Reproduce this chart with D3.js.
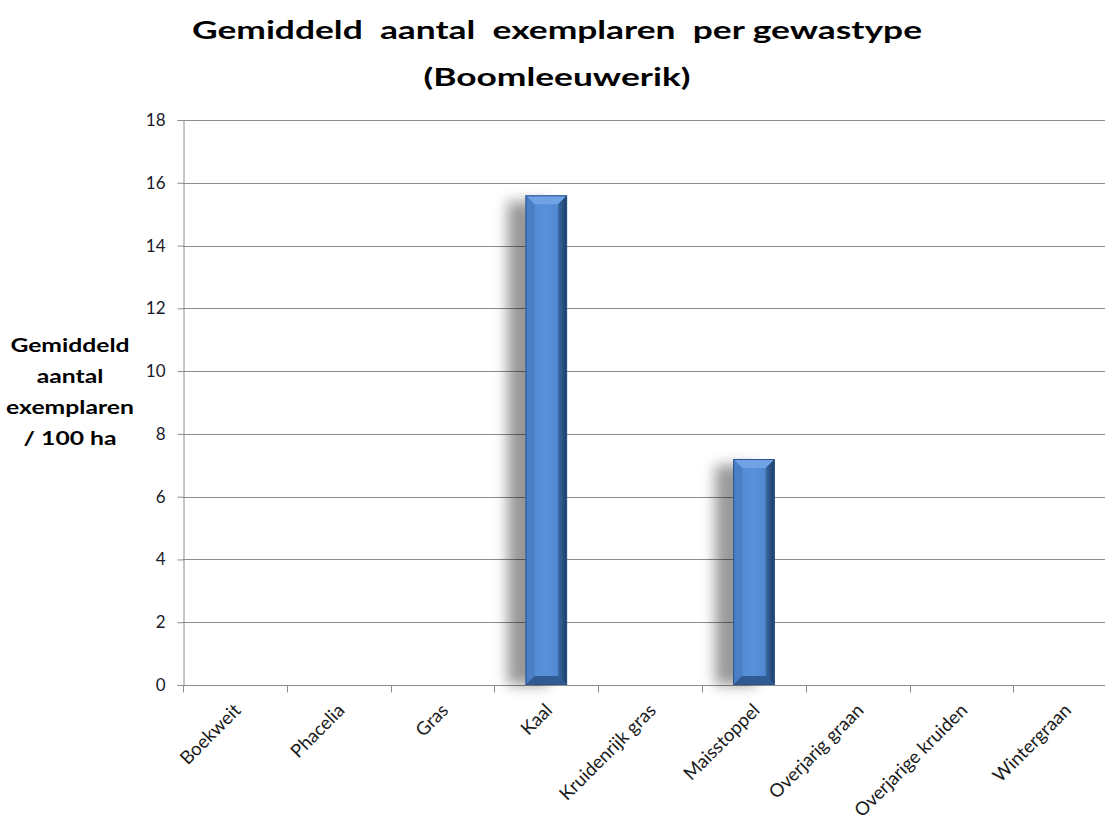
<!DOCTYPE html>
<html>
<head>
<meta charset="utf-8">
<script src="https://cdn.jsdelivr.net/npm/d3@7"></script>
<style>
  html, body { margin: 0; padding: 0; background: #fff; }
  svg { display: block; }
</style>
</head>
<body>
<svg id="chart" width="1108" height="821"></svg>
<script>
// Average number of birds per crop type
const categories = ["Boekweit", "Phacelia", "Gras", "Kaal", "Kruidenrijk gras",
                    "Maisstoppel", "Overjarig graan", "Overjarige kruiden", "Wintergraan"];
const values = [0, 0, 0, 15.6, 0, 7.2, 0, 0, 0];
const yTicks = [0, 2, 4, 6, 8, 10, 12, 14, 16, 18];
const titleLines = ["Gemiddeld  aantal  exemplaren  per gewastype", "(Boomleeuwerik)"];
const yLabelLines = ["Gemiddeld", "aantal", "exemplaren", "/ 100 ha"];

const svg = d3.select("#chart");
const font = "Lato, Calibri, 'Open Sans', sans-serif";
const plotLeft = 183, plotTop = 120, plotBottom = 685, plotRight = 1105;

const x = d3.scaleBand().domain(categories).range([plotLeft, plotLeft + 9 * 103.8]).paddingInner(0).paddingOuter(0);
const y = d3.scaleLinear().domain([0, 18]).range([plotBottom, plotTop]);

const defs = svg.append("defs");
const shadow = defs.append("filter").attr("id", "shadow")
  .attr("x", "-60%").attr("y", "-10%").attr("width", "220%").attr("height", "120%");
shadow.append("feGaussianBlur").attr("stdDeviation", 7);

const face = defs.append("linearGradient").attr("id", "face").attr("x1", 0).attr("x2", 1).attr("y1", 0).attr("y2", 0);
face.append("stop").attr("offset", "0%").attr("stop-color", "#4f86cc");
face.append("stop").attr("offset", "50%").attr("stop-color", "#5892dc");
face.append("stop").attr("offset", "100%").attr("stop-color", "#4a80c6");

const rightEdge = defs.append("linearGradient").attr("id", "rightEdge").attr("x1", 0).attr("x2", 1).attr("y1", 0).attr("y2", 0);
rightEdge.append("stop").attr("offset", "0%").attr("stop-color", "#3a6aa6");
rightEdge.append("stop").attr("offset", "100%").attr("stop-color", "#1c3a63");

// gridlines
svg.append("g").selectAll("line").data(yTicks.filter(d => d > 0)).join("line")
  .attr("x1", plotLeft).attr("x2", plotRight)
  .attr("y1", d => Math.round(y(d)) + 0.5).attr("y2", d => Math.round(y(d)) + 0.5)
  .attr("stroke", "#8c8c8c").attr("stroke-width", 1);

// y axis
const yAxis = svg.append("g").attr("transform", `translate(${plotLeft + 0.5},0)`)
  .call(d3.axisLeft(y).tickValues(yTicks).tickSize(6).tickPadding(12));
yAxis.select(".domain").attr("stroke", "#8c8c8c");
yAxis.selectAll(".tick line").attr("stroke", "#8c8c8c");
yAxis.selectAll(".tick text").attr("font-family", font).attr("font-size", 17).attr("fill", "#1a1a2a");

// x axis: ticks on category boundaries
const xAxisG = svg.append("g").attr("transform", `translate(0,${plotBottom + 0.5})`);
xAxisG.append("line").attr("x1", plotLeft).attr("x2", plotRight).attr("stroke", "#8c8c8c");
xAxisG.selectAll("line.tk").data(categories).join("line").attr("class", "tk")
  .attr("x1", d => Math.round(x(d)) + 0.5).attr("x2", d => Math.round(x(d)) + 0.5)
  .attr("y1", 0).attr("y2", 7).attr("stroke", "#8c8c8c");
xAxisG.selectAll("text").data(categories).join("text")
  .attr("transform", d => `translate(${x(d) + x.bandwidth() / 2 + 7},${26}) rotate(-45)`)
  .attr("text-anchor", "end")
  .attr("font-family", font).attr("font-size", 18.5).attr("fill", "#1a1a1a")
  .text(d => d);

// bars with a bevelled look and a soft shadow on the left
const bw = x.bandwidth() * 0.4;
const bars = svg.append("g").selectAll("g").data(categories.map((c, i) => ({c, v: values[i]})).filter(d => d.v > 0)).join("g");
bars.append("rect")
  .attr("x", d => x(d.c) + (x.bandwidth() - bw) / 2 - 18)
  .attr("y", d => y(d.v) + 6)
  .attr("width", bw).attr("height", d => plotBottom - y(d.v) - 6)
  .attr("fill", "#000").attr("opacity", 0.4).attr("filter", "url(#shadow)");
bars.each(function(d) {
  const g = d3.select(this);
  const x0 = x(d.c) + (x.bandwidth() - bw) / 2, x1 = x0 + bw;
  const y0 = y(d.v), y1 = plotBottom;
  const b = 9;
  g.append("rect").attr("x", x0).attr("y", y0).attr("width", bw).attr("height", y1 - y0).attr("fill", "url(#face)");
  // top bevel
  g.append("path").attr("d", `M${x0},${y0}L${x1},${y0}L${x1 - b},${y0 + b}L${x0 + b},${y0 + b}Z`).attr("fill", "#6fa3e6");
  // left bevel
  g.append("path").attr("d", `M${x0},${y0}L${x0 + b},${y0 + b}L${x0 + b},${y1 - b}L${x0},${y1}Z`).attr("fill", "#4a7fc3");
  // right bevel
  g.append("path").attr("d", `M${x1},${y0}L${x1},${y1}L${x1 - b},${y1 - b}L${x1 - b},${y0 + b}Z`).attr("fill", "url(#rightEdge)");
  // bottom bevel
  g.append("path").attr("d", `M${x0},${y1}L${x1},${y1}L${x1 - b},${y1 - b}L${x0 + b},${y1 - b}Z`).attr("fill", "#2f5a92");
  g.append("rect").attr("x", x0 + 0.5).attr("y", y0 + 0.5).attr("width", bw - 1).attr("height", y1 - y0 - 1)
    .attr("fill", "none").attr("stroke", "#2c558c").attr("stroke-width", 1);
});

// title (wide, horizontally stretched lettering)
svg.append("g").selectAll("text").data(titleLines).join("text")
  .attr("transform", (d, i) => `translate(557,${39 + i * 47}) scale(1.415,1)`)
  .attr("text-anchor", "middle").attr("font-family", font).attr("font-weight", "bold")
  .attr("font-size", 25).attr("fill", "#000").style("white-space", "pre")
  .text(d => d);

// y-axis label
svg.append("g").selectAll("text").data(yLabelLines).join("text")
  .attr("transform", (d, i) => `translate(70,${352 + i * 31}) scale(1.3,1)`)
  .attr("text-anchor", "middle").attr("font-family", font).attr("font-weight", "bold")
  .attr("font-size", 19).attr("fill", "#000")
  .text(d => d);
</script>
</body>
</html>
